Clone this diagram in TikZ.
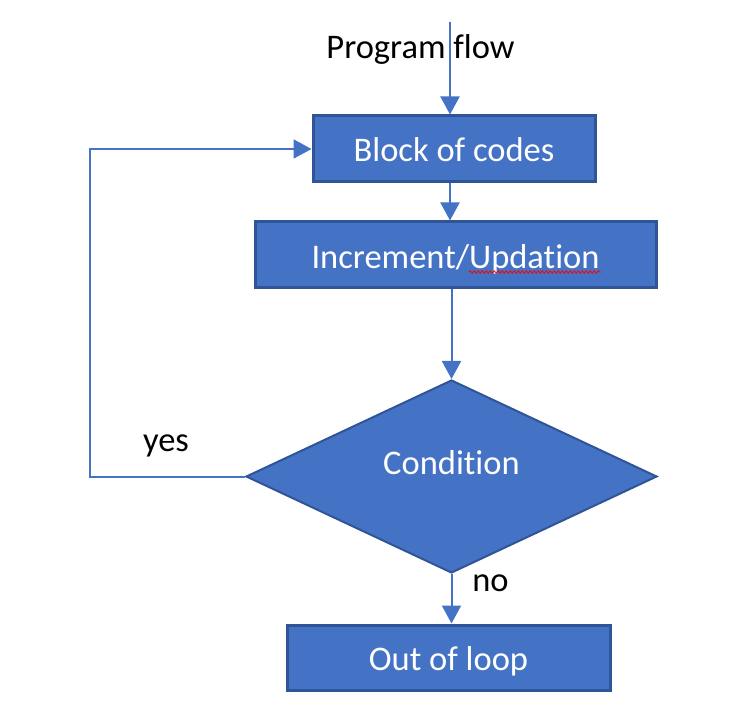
\documentclass[tikz,border=0pt]{standalone}
\usepackage{fontspec}
\setmainfont{Carlito}[Ligatures=NoCommon]
\usetikzlibrary{arrows.meta,shapes.geometric,decorations.pathmorphing}
\definecolor{boxfill}{HTML}{4472C4}
\definecolor{boxedge}{HTML}{2F5597}
\definecolor{linecol}{HTML}{4472C4}
\newcommand\txtat[2]{\smash{\raisebox{#1}{#2}}}
\tikzset{
  bx/.style={draw=boxedge, fill=boxfill, line width=3pt, rectangle, text=white, inner sep=0pt,
    font=\fontsize{34.5}{40}\selectfont},
  dm/.style={draw=boxedge, fill=boxfill, line width=2pt, diamond, text=white, inner sep=0pt,
    font=\fontsize{34.5}{40}\selectfont},
  lbl/.style={text=black, inner sep=0pt, anchor=base, font=\fontsize{34.5}{40}\selectfont},
  conn/.style={draw=linecol, line width=2pt},
  arr/.style={conn, -{Triangle[length=18pt,width=19pt]}},
}
\begin{document}
\begin{tikzpicture}[x=1pt,y=-1pt]
\useasboundingbox (0,0) rectangle (756,722);
\node[bx, minimum width=282pt, minimum height=66pt] (blk) at (454,149) {\txtat{-12.7pt}{Block of codes}};
\node[bx, minimum width=401pt, minimum height=66pt] (inc) at (455.5,255) {\txtat{-13.3pt}{Increment/Updation}};
\node[dm, minimum width=411pt, minimum height=193pt] (cond) at (451.5,476.5) {\txtat{2.5pt}{Condition}};
\node[bx, minimum width=323pt, minimum height=65pt] (out) at (448.5,657.5) {\txtat{-12.5pt}{Out of loop}};
\coordinate (top) at (450,22);
\node[lbl] (pf) at (420.5,58.3) {Program flow};
\node[lbl] (yes) at (166,451.7) {yes};
\node[lbl] (no) at (490.5,591.7) {no};
\draw[arr] (top) -- (top |- blk.north);
\draw[arr] (blk.south -| top) -- (inc.north -| top);
\draw[arr] (inc.south -| cond.north) -- (cond.north);
\draw[arr] (cond.south) -- (out.north -| cond.south);
\draw[arr] (cond.west) -- ++(-155,0) |- (blk.west);
\draw[red, line width=0.8pt, decorate, decoration={snake, amplitude=1.2pt, segment length=4pt}] (469,272) -- (601,272);
\end{tikzpicture}
\end{document}
